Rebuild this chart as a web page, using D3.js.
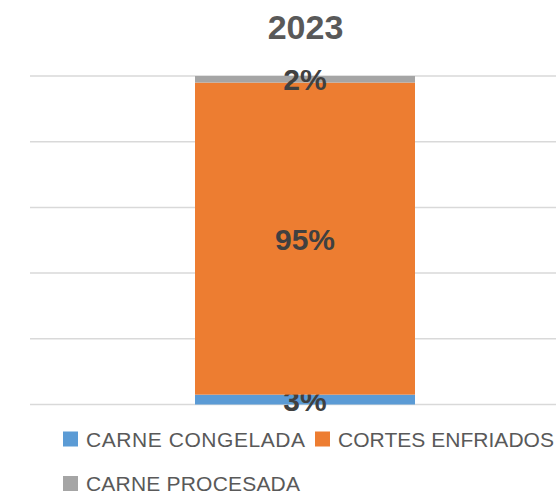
<!DOCTYPE html>
<html>
<head>
<meta charset="utf-8">
<script src="https://cdn.jsdelivr.net/npm/d3@7"></script>
<style>
  body { margin: 0; background: #fff; }
  svg { display: block; font-family: "Liberation Sans", Arial, sans-serif; }
</style>
</head>
<body>
<script>
'use strict';

// chart data
const categories = ["2023"];
const seriesNames = ["CARNE CONGELADA", "CORTES ENFRIADOS", "CARNE PROCESADA"];
const seriesValues = [[3], [95], [2]];
const seriesColors = ["#5B9BD5", "#ED7D31", "#A5A5A5"];
const yTicks = [0, 20, 40, 60, 80, 100];

const width = 556, height = 496;

const svg = d3.select("body").append("svg")
    .attr("width", width)
    .attr("height", height);

// title
svg.append("text")
    .attr("x", 305.5)
    .attr("y", 39)
    .attr("text-anchor", "middle")
    .style("font-size", "34px")
    .style("font-weight", "bold")
    .style("fill", "#595959")
    .text(categories[0]);

// scales
const x = d3.scaleBand()
    .domain(categories)
    .range([30, 580])
    .paddingInner(0.4286)
    .paddingOuter(0.4286);

const y = d3.scaleLinear()
    .domain([0, 100])
    .range([404.5, 76]);

// gridlines
svg.append("g")
    .selectAll("line")
    .data(yTicks)
    .enter()
    .append("line")
    .attr("x1", 30)
    .attr("x2", width)
    .attr("y1", d => y(d))
    .attr("y2", d => y(d))
    .attr("stroke", "#D9D9D9")
    .attr("stroke-width", 1.5);

// stack the series
const rows = categories.map((c, i) => {
    const r = { cat: c };
    seriesNames.forEach((s, j) => { r[s] = seriesValues[j][i]; });
    return r;
});
const stacked = d3.stack().keys(seriesNames)(rows);

const layers = svg.append("g")
    .selectAll("g")
    .data(stacked)
    .enter()
    .append("g")
    .attr("fill", (d, i) => seriesColors[i]);

layers.selectAll("rect")
    .data(d => d)
    .enter()
    .append("rect")
    .attr("x", d => x(d.data.cat))
    .attr("width", x.bandwidth())
    .attr("y", d => y(d[1]))
    .attr("height", d => y(d[0]) - y(d[1]));

// data labels
layers.selectAll("text")
    .data(d => d)
    .enter()
    .append("text")
    .attr("x", d => x(d.data.cat) + x.bandwidth() / 2)
    .attr("y", d => (y(d[0]) + y(d[1])) / 2 + 11)
    .attr("text-anchor", "middle")
    .style("font-size", "30px")
    .style("font-weight", "bold")
    .style("fill", "#404040")
    .text(d => (d[1] - d[0]) + "%");

// legend
const legendPos = [
    { x: 63, y: 446.5, w: 219 },
    { x: 315, y: 446.5, w: 216 },
    { x: 63, y: 491, w: 214 }
];

const legend = svg.append("g")
    .selectAll("g")
    .data(seriesNames)
    .enter()
    .append("g");

legend.append("rect")
    .attr("x", (d, i) => legendPos[i].x)
    .attr("y", (d, i) => legendPos[i].y - 15)
    .attr("width", 15)
    .attr("height", 15)
    .attr("fill", (d, i) => seriesColors[i]);

legend.append("text")
    .attr("x", (d, i) => legendPos[i].x + 23)
    .attr("y", (d, i) => legendPos[i].y)
    .attr("textLength", (d, i) => legendPos[i].w)
    .attr("lengthAdjust", "spacing")
    .style("font-size", "21px")
    .style("fill", "#595959")
    .text(d => d);
</script>
</body>
</html>
